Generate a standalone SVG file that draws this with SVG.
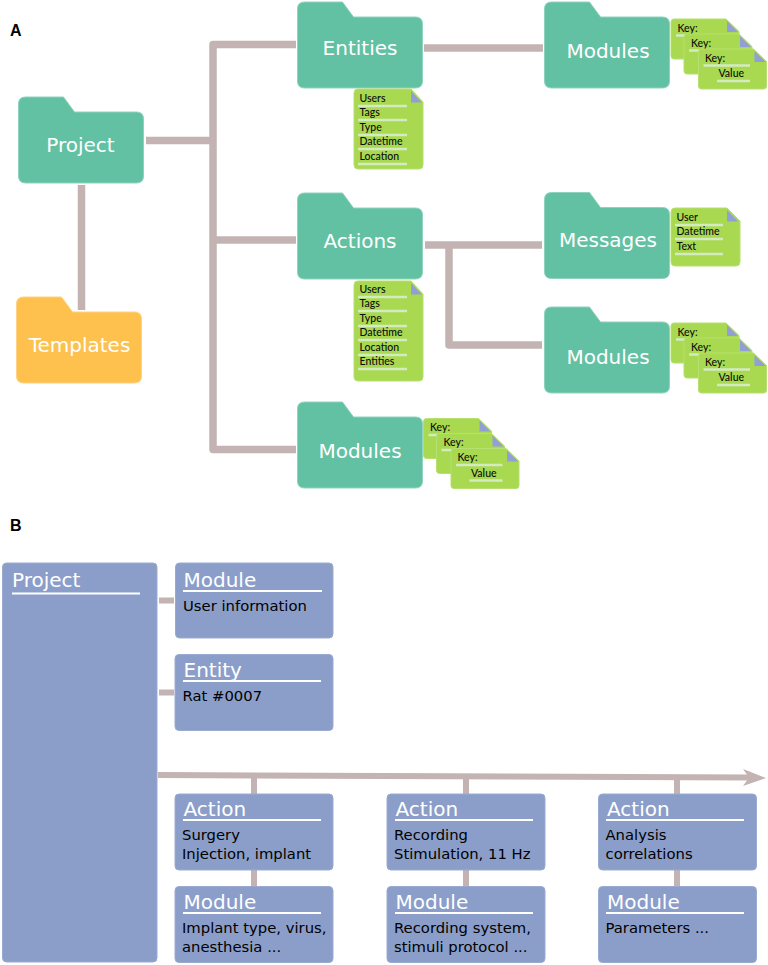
<svg xmlns="http://www.w3.org/2000/svg" width="768" height="965" viewBox="0 0 768 965">
<style>
text{font-family:"DejaVu Sans","Liberation Sans",sans-serif}
.panel{font-family:"Liberation Sans",sans-serif;font-weight:bold;font-size:16px;fill:#000}
.fl{font-size:20px;fill:#fff;text-anchor:middle}
.teal{fill:#63c1a3;stroke:#8fd3bd;stroke-width:1}
.amber{fill:#fec14e;stroke:#fed285;stroke-width:1}
.doc{fill:#a8d950;stroke:#b6e06f;stroke-width:1}
.fold{fill:#919fd6}
.dl{font-family:Lato,"Noto Sans",sans-serif;font-size:10.5px;font-weight:500;fill:#0c0c0c}
.rule{stroke:#d4ebc0;stroke-width:2.500;fill:none}
.box{fill:#8b9ec9;stroke:#9aabd1;stroke-width:1}
.bt{font-size:20px;fill:#fff}
.bb{font-size:14.800px;fill:#000}
.ul{stroke:#fff;stroke-width:2;fill:none}
.c{stroke:#c4b3b3;fill:none;stroke-linejoin:round}
</style>
<defs>
<path id="folder" d="M7 0H45L56 15H118Q125 15 125 22V79Q125 86 118 86H7Q0 86 0 79V7Q0 0 7 0Z"/>
<g id="sheet">
<path class="doc" d="M3 0H55L68 12.500V37Q68 40 65 40H3Q0 40 0 37V3Q0 0 3 0Z"/>
<path class="fold" d="M56 2L67 13H56Z"/>
</g>
<g id="stack">
<use href="#sheet" x="0" y="0"/>
<text class="dl" x="6.500" y="12.500">Key:</text><path class="rule" d="M5 16.500H15.500"/>
<use href="#sheet" x="13" y="15"/>
<text class="dl" x="20" y="27.500">Key:</text><path class="rule" d="M18 31.500H29"/>
<use href="#sheet" x="27.500" y="30"/>
<text class="dl" x="34" y="42.500">Key:</text><path class="rule" d="M32.500 46.500H79"/>
<text class="dl" x="47.500" y="58">Value</text><path class="rule" d="M46 62H79"/>
</g>
</defs>
<rect width="768" height="965" fill="#fff"/>
<text class="panel" x="10" y="36">A</text>
<text class="panel" x="10" y="531">B</text>
<g id="connectors">
<g class="c" stroke-width="7.500">
<path d="M146 140.500H213"/>
<path d="M296 44.500H213V449.500H296"/>
<path d="M213 240H296"/>
<path d="M424 48H543"/>
<path d="M81.500 185V310"/>
<path d="M425 245H542"/>
<path d="M449 245V345H542"/>
</g>
<path class="c" stroke-width="6" d="M159 600.500H174M159 692.500H174"/>
<path class="c" stroke-width="6" d="M158 775L752 777.500"/>
<path fill="#c4b3b3" d="M743 769L766 778L743 786L749 777.500Z"/>
<path class="c" stroke-width="6" d="M254 776V794M254 870V886M466 776V794M466 870V886M677 777V794M677 870V886"/>
</g>
<g id="node-project"><use href="#folder" class="teal" x="18.500" y="97"/><text class="fl" x="80.500" y="152">Project</text></g>
<g id="node-templates"><use href="#folder" class="amber" x="16.500" y="297"/><text class="fl" x="79.500" y="352">Templates</text></g>
<g id="node-entities"><use href="#folder" class="teal" x="297.500" y="2"/><text class="fl" x="360" y="55">Entities</text></g>
<g id="node-actions"><use href="#folder" class="teal" x="297.500" y="193"/><text class="fl" x="360" y="248">Actions</text></g>
<g id="node-modules-1"><use href="#folder" class="teal" x="544.500" y="2"/><text class="fl" x="608" y="58">Modules</text></g>
<g id="node-messages"><use href="#folder" class="teal" x="544.500" y="192.500"/><text class="fl" x="608" y="247">Messages</text></g>
<g id="node-modules-2"><use href="#folder" class="teal" x="544.500" y="307"/><text class="fl" x="608" y="364">Modules</text></g>
<g id="node-modules-3"><use href="#folder" class="teal" x="297.500" y="402"/><text class="fl" x="360" y="458">Modules</text></g>
<g id="doc-entities">
<path class="doc" d="M358 89H411L423 102V165Q423 169 419 169H358Q354 169 354 165V93Q354 89 358 89Z"/>
<path class="fold" d="M411 91L422 102.500H411Z"/>
<text class="dl" x="359.500" y="102">Users</text><path class="rule" d="M358 106H407"/>
<text class="dl" x="359.500" y="116">Tags</text><path class="rule" d="M358 120H407"/>
<text class="dl" x="359.500" y="131">Type</text><path class="rule" d="M358 135H407"/>
<text class="dl" x="359.500" y="145">Datetime</text><path class="rule" d="M358 149H407"/>
<text class="dl" x="359.500" y="160">Location</text><path class="rule" d="M358 164H407"/>
</g>
<g id="doc-actions">
<path class="doc" d="M358 281H411L423 294V377Q423 381 419 381H358Q354 381 354 377V285Q354 281 358 281Z"/>
<path class="fold" d="M411 283L422 294.500H411Z"/>
<text class="dl" x="359.500" y="293">Users</text><path class="rule" d="M358 297H407"/>
<text class="dl" x="359.500" y="307">Tags</text><path class="rule" d="M358 311H407"/>
<text class="dl" x="359.500" y="322">Type</text><path class="rule" d="M358 326H407"/>
<text class="dl" x="359.500" y="336">Datetime</text><path class="rule" d="M358 340H407"/>
<text class="dl" x="359.500" y="351">Location</text><path class="rule" d="M358 355H407"/>
<text class="dl" x="359.500" y="365">Entities</text><path class="rule" d="M358 369H407"/>
</g>
<g id="doc-messages">
<path class="doc" d="M675 208H727L740 221V262Q740 266 736 266H675Q671 266 671 262V212Q671 208 675 208Z"/>
<path class="fold" d="M727 210L738 221.500H727Z"/>
<text class="dl" x="676.500" y="221">User</text><path class="rule" d="M675 225H723"/>
<text class="dl" x="676.500" y="235">Datetime</text><path class="rule" d="M675 239H723"/>
<text class="dl" x="676.500" y="250">Text</text><path class="rule" d="M675 254H723"/>
</g>
<use id="stack-1" href="#stack" x="671" y="19"/>
<use id="stack-2" href="#stack" x="671" y="323"/>
<use id="stack-3" href="#stack" x="423.500" y="418.500"/>
<g id="b-project"><rect class="box" x="2.500" y="563" width="154.500" height="399" rx="4"/><text class="bt" x="12" y="587">Project</text><path class="ul" d="M12 593.500H140"/></g>
<g id="b-module-user"><rect class="box" x="175.500" y="563" width="157.500" height="75" rx="4"/><text class="bt" x="183.500" y="587">Module</text><path class="ul" d="M183 591H322"/><text class="bb" x="183" y="611">User information</text></g>
<g id="b-entity"><rect class="box" x="175" y="654.500" width="158" height="76" rx="4"/><text class="bt" x="183.500" y="677">Entity</text><path class="ul" d="M183 681H321"/><text class="bb" x="182.500" y="701">Rat #0007</text></g>
<g id="b-action-1"><rect class="box" x="175" y="794" width="158" height="76" rx="4"/><text class="bt" x="183.500" y="816">Action</text><path class="ul" d="M183 820H321"/><text class="bb" x="182" y="840">Surgery</text><text class="bb" x="182" y="859">Injection, implant</text></g>
<g id="b-action-2"><rect class="box" x="387" y="794" width="158" height="76" rx="4"/><text class="bt" x="395.500" y="816">Action</text><path class="ul" d="M395 820H533"/><text class="bb" x="394" y="840">Recording</text><text class="bb" x="394" y="859">Stimulation, 11 Hz</text></g>
<g id="b-action-3"><rect class="box" x="598.500" y="794" width="158" height="76" rx="4"/><text class="bt" x="607" y="816">Action</text><path class="ul" d="M606 820H744"/><text class="bb" x="605.500" y="840">Analysis</text><text class="bb" x="605.500" y="859">correlations</text></g>
<g id="b-module-1"><rect class="box" x="175" y="886.500" width="158" height="76" rx="4"/><text class="bt" x="183.500" y="909">Module</text><path class="ul" d="M183 913H321"/><text class="bb" x="182" y="933">Implant type, virus,</text><text class="bb" x="182" y="952">anesthesia ...</text></g>
<g id="b-module-2"><rect class="box" x="387" y="886.500" width="158" height="76" rx="4"/><text class="bt" x="395.500" y="909">Module</text><path class="ul" d="M395 913H533"/><text class="bb" x="394" y="933">Recording system,</text><text class="bb" x="394" y="952">stimuli protocol ...</text></g>
<g id="b-module-3"><rect class="box" x="598.500" y="886.500" width="158" height="76" rx="4"/><text class="bt" x="607" y="909">Module</text><path class="ul" d="M606 913H744"/><text class="bb" x="605.500" y="933">Parameters ...</text></g>
</svg>
